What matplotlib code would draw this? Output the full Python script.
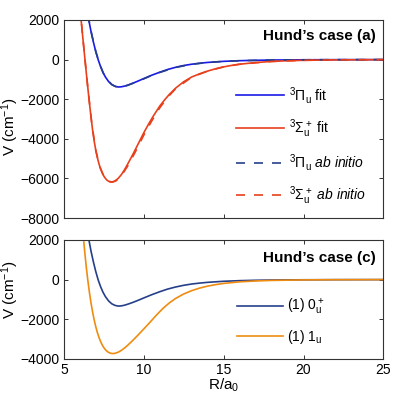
import matplotlib
matplotlib.use("Agg")
import matplotlib.pyplot as plt

plt.rcParams["font.family"] = ["Liberation Sans", "DejaVu Sans"]
plt.rcParams["mathtext.fontset"] = "custom"
plt.rcParams["mathtext.rm"] = "Liberation Sans"
plt.rcParams["mathtext.it"] = "Liberation Sans:italic"
plt.rcParams["mathtext.bf"] = "Liberation Sans:bold"
plt.rcParams["font.size"] = 10

# --- Hund's case (a): 3Pi_u fit
r_pi_fit = [6.56, 6.7, 6.85, 7.0, 7.15, 7.3, 7.45, 7.6, 7.8, 8.0, 8.2, 8.4, 8.6, 8.8,
            9.0, 9.3, 9.6, 10.0, 10.5, 11.0, 11.5, 12.0, 12.5, 13.0, 13.5, 14.0,
            15.0, 16.0, 17.0, 18.0, 20.0, 22.0, 25.0]
v_pi_fit = [2000, 1420, 880, 400, -10, -360, -650, -880, -1110, -1260, -1350, -1385,
            -1375, -1340, -1290, -1200, -1100, -960, -790, -640, -500, -390, -300,
            -235, -185, -145, -90, -57, -37, -24, -11, -5, -2]

# --- Hund's case (a): 3Sigma_u+ fit
r_sig_fit = [6.08, 6.2, 6.3, 6.4, 6.5, 6.6, 6.7, 6.8, 6.9, 7.0, 7.1, 7.2, 7.3, 7.4,
             7.5, 7.6, 7.7, 7.8, 7.9, 8.0, 8.1, 8.2, 8.4, 8.6, 8.8, 9.0, 9.2, 9.4,
             9.6, 9.8, 10.0, 10.3, 10.6, 11.0, 11.3, 11.6, 12.0, 12.5, 13.0, 13.5,
             14.0, 14.5, 15.0, 15.5, 16.0, 17.0, 18.0, 19.0, 20.0, 22.0, 25.0]
v_sig_fit = [2000, 1000, 180, -630, -1420, -2180, -2900, -3560, -4120, -4580, -4960,
             -5270, -5520, -5720, -5880, -6000, -6090, -6145, -6175, -6180, -6165,
             -6130, -6000, -5810, -5560, -5270, -4970, -4660, -4340, -4020, -3700,
             -3260, -2850, -2350, -2040, -1760, -1440, -1120, -880, -720, -580, -465,
             -370, -295, -235, -150, -95, -60, -38, -15, -4]

# --- ab initio points
r_pi_ab = [6.5, 6.75, 7.0, 7.25, 7.5, 7.75, 8.0, 8.25, 8.5, 8.75, 9.0, 9.5, 10.0,
           10.5, 11.0, 12.0, 13.0, 14.0, 15.0, 16.0, 18.0, 20.0, 22.0, 25.0]
v_pi_ab = [2300, 1250, 400, -250, -740, -1050, -1265, -1365, -1390, -1360, -1300,
           -1140, -975, -800, -650, -395, -240, -148, -92, -58, -25, -12, -5, -2]

r_sig_ab = [6.0, 6.25, 6.5, 6.75, 7.0, 7.25, 7.5, 7.75, 8.0, 8.25, 8.5, 8.75, 9.0,
            9.25, 9.5, 9.75, 10.0, 10.5, 11.0, 11.5, 12.0, 13.0, 14.0, 15.0, 16.0,
            18.0, 20.0, 22.0, 25.0]
v_sig_ab = [2700, 600, -1420, -3240, -4590, -5410, -5890, -6120, -6190, -6130, -5960,
            -5680, -5370, -5000, -4620, -4220, -3820, -3100, -2440, -1900, -1470,
            -890, -580, -370, -235, -95, -38, -15, -4]

# --- Hund's case (c)
r_0u = [6.57, 6.7, 6.85, 7.0, 7.15, 7.3, 7.45, 7.6, 7.8, 8.0, 8.2, 8.4, 8.6, 8.8,
        9.0, 9.3, 9.6, 10.0, 10.5, 11.0, 11.5, 12.0, 12.5, 13.0, 13.5, 14.0, 15.0,
        16.0, 17.0, 18.0, 20.0, 22.0, 25.0]
v_0u = [2000, 1440, 890, 400, -20, -360, -640, -860, -1080, -1225, -1305, -1340,
        -1330, -1295, -1245, -1160, -1065, -930, -765, -615, -480, -375, -290, -225,
        -178, -140, -87, -55, -36, -23, -11, -5, -2]

r_1u = [6.25, 6.3, 6.4, 6.5, 6.6, 6.7, 6.8, 6.9, 7.0, 7.1, 7.2, 7.3, 7.4, 7.5, 7.6,
        7.7, 7.8, 7.9, 8.0, 8.07, 8.2, 8.4, 8.6, 8.8, 9.0, 9.3, 9.6, 10.0, 10.4,
        10.8, 11.2, 11.6, 12.0, 12.5, 13.0, 13.5, 14.0, 14.5, 15.0, 16.0, 17.0,
        18.0, 20.0, 22.0, 25.0]
v_1u = [1900, 1459, 662, -30, -643, -1182, -1642, -2046, -2390, -2682, -2928, -3133,
        -3300, -3436, -3542, -3623, -3681, -3717, -3736, -3740, -3728, -3672, -3578,
        -3458, -3318, -3087, -2842, -2500, -2150, -1790, -1460, -1180, -950, -730,
        -560, -430, -330, -255, -195, -115, -70, -43, -17, -7, -2]

BLUE = "#1a1ae6"
RED = "#e8401c"
NAVY = "#263f8a"
ORANGE = "#ef8c10"


def style_axes(ax):
    ax.tick_params(direction="in", top=True, right=True, length=3, width=0.7,
                   labelsize=10, pad=3, color="#333333")
    for spine in ax.spines.values():
        spine.set_color("#333333")
        spine.set_linewidth(0.8)


fig = plt.figure(figsize=(3.99, 3.99), dpi=100)
ax1 = fig.add_axes([0.160, 0.4536, 0.801, 0.4964])
ax2 = fig.add_axes([0.160, 0.1010, 0.801, 0.2975])

dash = (0, (5.4, 5.4))
ax1.plot(r_pi_fit, v_pi_fit, color=BLUE, lw=1.2, label=r"$^3\Pi_\mathrm{u}$ fit")
ax1.plot(r_sig_fit, v_sig_fit, color=RED, lw=1.2, label=r"$^3\Sigma_\mathrm{u}^+$ fit")
ax1.plot(r_pi_ab, v_pi_ab, color=NAVY, lw=1.2, linestyle=dash,
         label=r"$^3\Pi_\mathrm{u}$ $\mathit{ab\ initio}$")
ax1.plot(r_sig_ab, v_sig_ab, color=RED, lw=1.2, linestyle=dash,
         label=r"$^3\Sigma_\mathrm{u}^+$ $\mathit{ab\ initio}$")

ax1.set_xlim(5, 25)
ax1.set_ylim(-8000, 2000)
ax1.set_xticks([5, 10, 15, 20, 25])
ax1.set_xticklabels([])
ax1.set_yticks([-8000, -6000, -4000, -2000, 0, 2000])
ax1.set_ylabel(r"V (cm$^{-1}$)", fontsize=11)
ax1.yaxis.set_label_coords(-0.135, 0.46)
style_axes(ax1)
ax1.text(0.977, 0.92, "Hund\u2019s case (a)", transform=ax1.transAxes,
         ha="right", va="center", fontsize=11, fontweight="bold")
ax1.legend(loc="center left", bbox_to_anchor=(0.54, 0.364), frameon=False,
           borderpad=0, borderaxespad=0, handlelength=3.45, handletextpad=0.3,
           labelspacing=0.85, fontsize=10)

ax2.plot(r_0u, v_0u, color=NAVY, lw=1.2, label=r"(1) 0$_\mathrm{u}^+$")
ax2.plot(r_1u, v_1u, color=ORANGE, lw=1.2, label=r"(1) 1$_\mathrm{u}$")
ax2.set_xlim(5, 25)
ax2.set_ylim(-4000, 2000)
ax2.set_xticks([5, 10, 15, 20, 25])
ax2.set_yticks([-4000, -2000, 0, 2000])
ax2.set_ylabel(r"V (cm$^{-1}$)", fontsize=11)
ax2.yaxis.set_label_coords(-0.135, 0.58)
ax2.set_xlabel(r"R/a$_0$", fontsize=11, labelpad=0)
style_axes(ax2)
ax2.text(0.977, 0.851, "Hund\u2019s case (c)", transform=ax2.transAxes,
         ha="right", va="center", fontsize=11, fontweight="bold")
ax2.legend(loc="center left", bbox_to_anchor=(0.543, 0.312), frameon=False,
           borderpad=0, borderaxespad=0, handlelength=3.25, handletextpad=0.3,
           labelspacing=0.8, fontsize=10)

fig.savefig("out.png", dpi=100)
